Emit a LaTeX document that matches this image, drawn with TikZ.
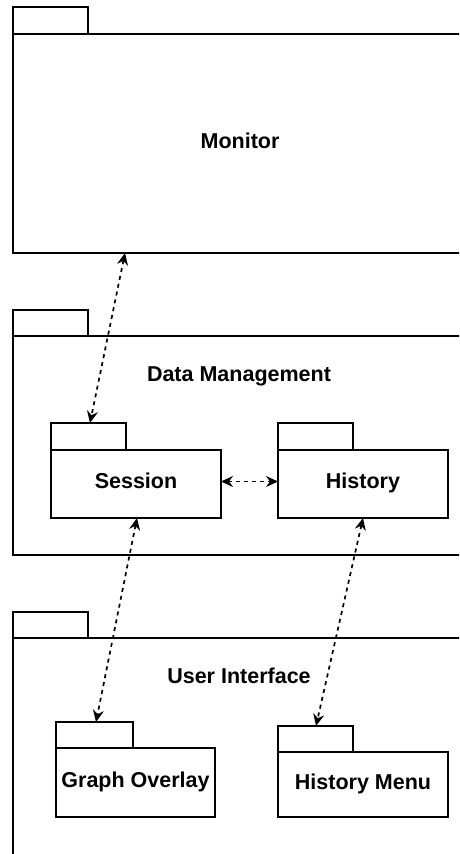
\documentclass[tikz,border=0pt]{standalone}
\usepackage{fontspec}
\setmainfont{Liberation Sans}
\usetikzlibrary{arrows.meta}
\begin{document}
\begin{tikzpicture}[x=1pt,y=-1pt,
  line width=1.3pt,
  box/.style={draw=black, fill=white, rectangle, anchor=north west, inner sep=0pt, outer sep=0pt},
  tab/.style={box, minimum width=75pt, minimum height=27pt},
  label text/.style={font=\fontsize{21.5}{24}\selectfont\bfseries, inner sep=0pt,
    text height=16pt, text depth=6.7pt},
  deptip/.tip={Stealth[length=12pt,width=11pt,inset=4pt]},
  dep/.style={dash pattern=on 4pt off 4pt, line width=1.7pt, deptip-deptip}
]
\useasboundingbox (0,0) rectangle (459,854);
\clip (0,0) rectangle (459,854);
\fill[white] (0,0) rectangle (459,854);

% Monitor package
\node[tab] (montab) at (13,7) {};
\node[box, minimum width=454pt, minimum height=219pt, label text] (mon) at (13,34) {Monitor};

% Data Management package
\node[tab, minimum height=26pt] (dmtab) at (13,310) {};
\node[box, minimum width=454pt, minimum height=219pt] (dm) at (13,336) {};
\node[label text] (dmtitle) at (239,377) {Data Management};

\node[tab] (sestab) at (51,423) {};
\node[box, minimum width=170pt, minimum height=68pt, label text] (ses) at (51,450) {Session};
\node[tab] (histab) at (278,423) {};
\node[box, minimum width=170pt, minimum height=68pt, label text] (his) at (278,450) {History};

% User Interface package
\node[tab, minimum height=26pt] (uitab) at (13,612) {};
\node[box, minimum width=454pt, minimum height=260pt] (ui) at (13,638) {};
\node[label text] (uititle) at (239,679) {User Interface};

\node[tab, minimum width=77pt, minimum height=26pt] (gotab) at (56,722) {};
\node[box, minimum width=159pt, minimum height=69pt, label text] (go) at (56,748) {Graph Overlay};
\node[tab, minimum height=26pt] (hmtab) at (278,726) {};
\node[box, minimum width=170pt, minimum height=65pt, label text] (hm) at (278,752) {History Menu};

% Dependencies
\draw[dep] ([xshift=112pt]mon.south west) -- ([xshift=39pt]sestab.north west);
\draw[dep] ([yshift=2.5pt]ses.east) -- ([yshift=2.5pt]his.west);
\draw[dep] ([xshift=86pt]ses.south west) -- ([xshift=40pt]gotab.north west);
\draw[dep] ([xshift=85pt]his.south west) -- ([xshift=38pt]hmtab.north west);
\end{tikzpicture}
\end{document}
